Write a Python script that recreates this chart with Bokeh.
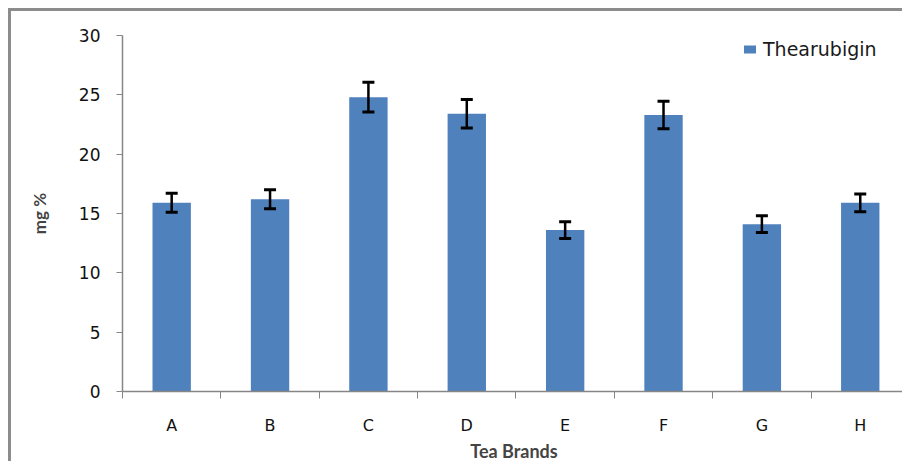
from bokeh.plotting import figure
from bokeh.models import (ColumnDataSource, Whisker, TeeHead, FixedTicker,
                          Legend, LegendItem, Range1d)
from bokeh.embed import file_html
from bokeh.resources import INLINE

# Thearubigin content of tea brands (mg %), mean and error
brands = ["A", "B", "C", "D", "E", "F", "G", "H"]
thearubigin = [15.9, 16.2, 24.8, 23.4, 13.6, 23.3, 14.1, 15.9]
errors = [0.8, 0.8, 1.25, 1.2, 0.7, 1.15, 0.7, 0.75]
y_ticks = [0, 5, 10, 15, 20, 25, 30]

xs = [i + 0.5 for i in range(len(brands))]
src = ColumnDataSource(dict(
    x=xs,
    top=thearubigin,
    upper=[v + e for v, e in zip(thearubigin, errors)],
    lower=[v - e for v, e in zip(thearubigin, errors)],
))

OFF = 11  # space taken by the outer frame line
AXIS_GREY = "#868686"

p = figure(width=905 - OFF, height=453, output_backend="svg",
           toolbar_location=None,
           x_range=Range1d(0, 7.96), y_range=Range1d(0, 30),
           min_border_left=122 - OFF, min_border_right=0,
           min_border_top=35 - OFF, min_border_bottom=71,
           styles={"margin-left": "8px", "margin-top": "8px",
                   "border-left": "3px solid #8c8c8c",
                   "border-top": "3px solid #8c8c8c"})
p.outline_line_color = None
p.xgrid.visible = False
p.ygrid.visible = False
p.background_fill_color = "white"
p.border_fill_color = "white"

bars = p.vbar(x="x", top="top", width=0.39, bottom=0, source=src,
              fill_color="#4F81BD", line_color=None)

whisk = Whisker(base="x", upper="upper", lower="lower", source=src,
                line_color="black", line_width=2.5, level="overlay",
                upper_head=TeeHead(size=12, line_width=3, line_color="black"),
                lower_head=TeeHead(size=12, line_width=3, line_color="black"))
p.add_layout(whisk)

# x axis: labels at category centres, ticks at category boundaries
xa = p.xaxis[0]
xa.ticker = FixedTicker(ticks=xs, minor_ticks=list(range(len(brands) + 1)))
xa.major_label_overrides = {x: b for x, b in zip(xs, brands)}
xa.major_tick_out = 0
xa.major_tick_in = 0
xa.minor_tick_out = 7
xa.minor_tick_in = 0
xa.minor_tick_line_color = AXIS_GREY
xa.axis_line_color = AXIS_GREY
xa.axis_line_width = 1.5
xa.major_label_standoff = 17
xa.major_label_text_font = "DejaVu Sans"
xa.major_label_text_font_size = "16px"
xa.major_label_text_color = "#111111"
xa.axis_label = "Tea Brands"
xa.axis_label_text_font = "Lato"
xa.axis_label_text_font_style = "bold"
xa.axis_label_text_font_size = "18px"
xa.axis_label_standoff = 2

ya = p.yaxis[0]
ya.ticker = FixedTicker(ticks=y_ticks, minor_ticks=[])
ya.major_tick_out = 6
ya.major_tick_in = 0
ya.major_tick_line_color = AXIS_GREY
ya.axis_line_color = AXIS_GREY
ya.axis_line_width = 1.5
ya.major_label_standoff = 16
ya.major_label_text_font = "DejaVu Sans"
ya.major_label_text_font_size = "17px"
ya.major_label_text_color = "#111111"
ya.axis_label = "mg %"
ya.axis_label_text_font = "Lato"
ya.axis_label_text_font_style = "bold"
ya.axis_label_text_font_size = "17px"
ya.axis_label_standoff = 26

legend = Legend(items=[LegendItem(label="Thearubigin", renderers=[bars])],
                location=(742 - 122, 390 - 59), padding=0, margin=0,
                glyph_width=15, glyph_height=10, label_standoff=6,
                label_text_font="DejaVu Sans", label_text_font_size="19px",
                label_text_color="#1a1a1a",
                border_line_color=None, background_fill_alpha=0)
p.add_layout(legend)

open("out.html", "w").write(file_html(p, INLINE))
